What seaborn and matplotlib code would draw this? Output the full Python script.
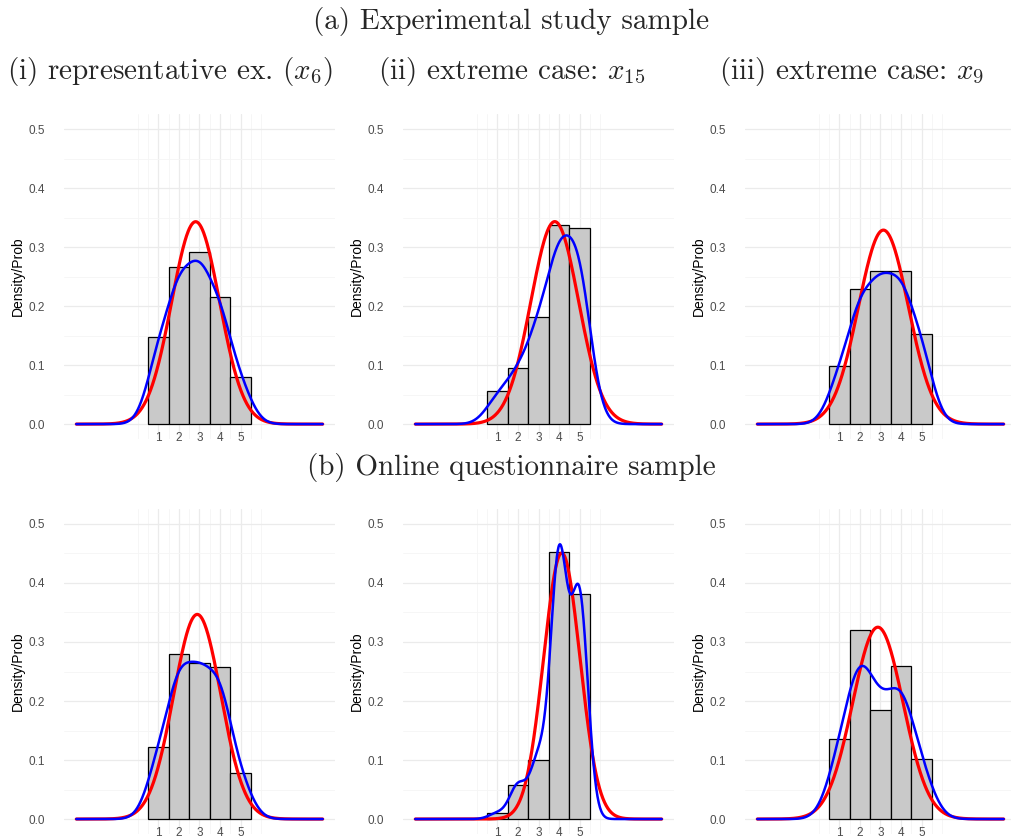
# Histograms of the 5-point answers with normal fit (red) and kernel density (blue)

import numpy as np
import pandas as pd
import matplotlib
matplotlib.use('Agg')
import matplotlib.pyplot as plt
import seaborn as sns

# Answer categories
answers = [1, 2, 3, 4, 5]

# Share of answers in each category
exp_x6 = [0.148, 0.266, 0.292, 0.216, 0.079]
exp_x15 = [0.056, 0.095, 0.182, 0.337, 0.332]
exp_x9 = [0.098, 0.229, 0.260, 0.260, 0.153]
onl_x6 = [0.122, 0.279, 0.264, 0.258, 0.078]
onl_x15 = [0.010, 0.058, 0.100, 0.453, 0.381]
onl_x9 = [0.135, 0.320, 0.185, 0.260, 0.101]

# Kernel bandwidths of the blue curves
kde_bw = [0.60, 0.61, 0.61, 0.60, 0.41, 0.65]

panel_data = [exp_x6, exp_x15, exp_x9, onl_x6, onl_x15, onl_x9]

row_titles = ['(a) Experimental study sample', '(b) Online questionnaire sample']
col_titles = ['(i) representative ex. ($x_6$)',
              '(ii) extreme case: $x_{15}$',
              '(iii) extreme case: $x_9$']

y_ticks = [0.0, 0.1, 0.2, 0.3, 0.4, 0.5]

sns.set_style('white')
plt.rcParams['font.family'] = ['Liberation Sans', 'DejaVu Sans']
plt.rcParams['mathtext.fontset'] = 'cm'

W, H = 1012, 839
fig = plt.figure(figsize = (W / 100, H / 100), dpi = 100)

lefts = [64, 403, 745]
tops = [114.25, 509.2]
ax_w, ax_h = 271, 324.6

grid_x = np.linspace(-3, 9, 600)

for i, probs in enumerate(panel_data):
    r, c = divmod(i, 3)
    ax = fig.add_axes([lefts[c] / W, 1 - (tops[r] + ax_h) / H, ax_w / W, ax_h / H])

    p = np.array(probs)
    x = np.array(answers, dtype = float)

    # Normal curve with the sample mean and sd
    mu = np.sum(p * x) / p.sum()
    sd = np.sqrt(np.sum(p * (x - mu) ** 2) / p.sum())
    normal = np.exp(-0.5 * ((grid_x - mu) / sd) ** 2) / (sd * np.sqrt(2 * np.pi))

    # Gaussian kernel density of the answers
    h = kde_bw[i]
    kde = np.zeros_like(grid_x)
    for xi, pi in zip(x, p):
        kde += pi * np.exp(-0.5 * ((grid_x - xi) / h) ** 2) / (h * np.sqrt(2 * np.pi))
    kde = kde / p.sum()

    bar_df = pd.DataFrame({'answer': answers, 'prob': probs})
    curve_df = pd.DataFrame({'x': grid_x, 'normal': normal, 'kde': kde})

    sns.barplot(ax = ax, data = bar_df, x = 'answer', y = 'prob',
                native_scale = True, width = 1, color = '#C9C9C9',
                saturation = 1, edgecolor = 'black', linewidth = 0.9,
                errorbar = None, zorder = 2)

    sns.lineplot(ax = ax, data = curve_df, x = 'x', y = 'normal',
                 color = 'red', linewidth = 2.3, estimator = None, zorder = 3)
    sns.lineplot(ax = ax, data = curve_df, x = 'x', y = 'kde',
                 color = 'blue', linewidth = 1.8, estimator = None, zorder = 4)

    ax.set_xlim(-3.6, 9.6)
    ax.set_ylim(-0.025, 0.525)

    ax.set_xticks(answers)
    ax.set_xticks([0, 0.5, 1.5, 2.5, 3.5, 4.5, 5.5, 6], minor = True)
    ax.set_yticks(y_ticks)
    ax.set_yticks([0.05, 0.15, 0.25, 0.35, 0.45], minor = True)
    ax.set_yticklabels([f'{v:.1f}' for v in y_ticks])

    ax.grid(which = 'major', color = '#EBEBEB', linewidth = 0.9)
    ax.grid(which = 'minor', color = '#F5F5F5', linewidth = 0.6)
    ax.set_axisbelow(True)

    for s in ax.spines.values():
        s.set_visible(False)

    ax.tick_params(axis = 'x', which = 'both', length = 0, pad = -5,
                   labelsize = 8.5, labelcolor = '#4D4D4D')
    ax.tick_params(axis = 'y', which = 'both', length = 0, pad = 13.5,
                   labelsize = 8.5, labelcolor = '#4D4D4D')

    ax.set_xlabel('')
    ax.set_ylabel('Density/Prob', fontsize = 10, color = 'black')
    ax.yaxis.set_label_coords(-0.145, 0.5)

# Titles
col_centres = [170, 512, 852]
fig.text(511 / W, 1 - 21 / H, row_titles[0], ha = 'center', va = 'center',
         fontfamily = 'cmr10', fontsize = 21)
for cx, t in zip(col_centres, col_titles):
    fig.text(cx / W, 1 - 72 / H, t, ha = 'center', va = 'center',
             fontfamily = 'cmr10', fontsize = 21)
fig.text(511 / W, 1 - 468 / H, row_titles[1], ha = 'center', va = 'center',
         fontfamily = 'cmr10', fontsize = 21)

fig.savefig('out.png', dpi = 100)
plt.close()
